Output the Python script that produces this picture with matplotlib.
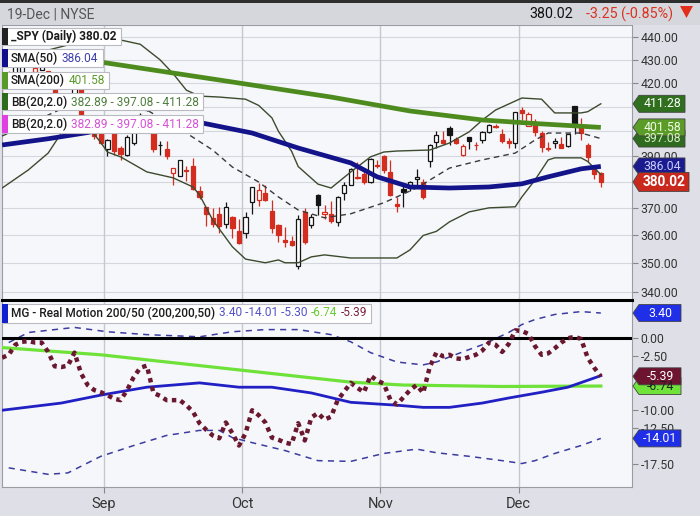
import matplotlib
matplotlib.use("Agg")
import matplotlib.pyplot as plt
from matplotlib.patches import Rectangle, Polygon
from matplotlib.ticker import NullLocator
import pandas as pd

plt.rcParams['font.family'] = ['Roboto', 'DejaVu Sans']

W, H = 700, 516

# trading days shown (Labor Day and Thanksgiving closed)
days = pd.bdate_range('2022-08-10', '2022-12-19')
days = days[~days.isin(pd.to_datetime(['2022-09-05', '2022-11-24']))]

prev_close = 411.35
opens = [418.78, 422.99, 422.03, 424.77, 427.73, 424.77, 425.79, 424.98, 417.05, 412.90,
         412.11, 415.24, 419.39, 402.20, 405.89, 400.00, 392.89, 400.28, 393.13, 390.37,
         395.34, 402.74, 408.78, 401.83, 394.47, 392.96, 383.60, 382.26, 384.60, 386.10,
         376.58, 370.58, 366.41, 367.76, 364.38, 366.61, 361.80, 361.08, 372.40, 373.20,
         375.62, 368.97, 363.96, 358.24, 358.17, 349.21, 368.55, 364.01, 375.13, 367.82,
         368.03, 365.12, 375.89, 378.79, 381.62, 383.07, 379.87, 386.44, 390.14, 383.90,
         371.47, 377.40, 377.71, 381.11, 379.93, 388.05, 395.59, 396.66, 401.15, 396.78,
         390.46, 397.74, 394.64, 396.63, 399.55, 401.83, 399.09, 396.05, 395.49, 408.77,
         402.25, 403.95, 399.42, 392.94, 395.14, 394.94, 394.11, 410.22, 401.61, 394.30,
         385.18, 383.47]
highs = [420.11, 424.95, 427.21, 429.31, 431.73, 428.97, 428.61, 425.26, 417.10, 415.42,
         415.11, 419.56, 420.13, 405.84, 405.90, 400.53, 396.78, 401.56, 394.12, 398.59,
         400.86, 407.51, 411.73, 403.10, 396.17, 395.96, 385.62, 388.55, 386.40, 389.31,
         378.66, 370.62, 370.21, 370.40, 372.30, 367.11, 365.91, 368.55, 378.00, 379.46,
         378.72, 373.29, 364.21, 363.03, 359.82, 367.51, 370.26, 367.98, 375.45, 371.26,
         372.67, 374.80, 380.06, 385.25, 387.58, 385.00, 389.52, 388.40, 390.39, 388.63,
         374.20, 378.87, 380.57, 385.12, 381.14, 395.04, 400.13, 400.18, 402.31, 397.78,
         394.95, 397.81, 395.82, 400.07, 402.93, 402.91, 400.81, 397.30, 407.68, 410.00,
         407.86, 404.93, 399.99, 395.64, 397.36, 397.76, 398.99, 410.49, 405.50, 395.25,
         386.58, 383.82]
lows = [415.69, 419.21, 421.03, 424.71, 426.88, 422.44, 425.50, 420.82, 412.44, 411.77,
        411.39, 413.88, 405.25, 401.20, 396.77, 394.82, 390.04, 390.33, 388.42, 390.20,
        394.46, 402.46, 408.46, 391.73, 390.58, 388.78, 378.80, 382.18, 380.46, 376.85,
        373.54, 363.29, 363.03, 360.87, 362.60, 359.21, 357.04, 359.21, 368.00, 370.95,
        372.68, 360.94, 357.67, 355.71, 356.30, 348.11, 356.96, 362.60, 367.52, 365.94,
        364.61, 363.54, 373.11, 378.67, 381.35, 379.33, 379.68, 385.26, 383.29, 374.76,
        368.79, 370.34, 376.50, 377.72, 373.61, 385.64, 393.48, 394.83, 394.49, 394.79,
        390.14, 393.04, 392.66, 395.15, 399.31, 401.54, 395.11, 393.30, 393.48, 404.75,
        402.14, 398.17, 391.64, 391.97, 393.13, 393.20, 393.56, 399.07, 396.31, 387.89,
        381.04, 378.28]
closes = [419.99, 419.90, 427.10, 428.86, 429.70, 426.65, 427.89, 422.14, 413.35, 412.35,
          413.67, 419.51, 405.31, 402.63, 398.21, 395.18, 396.42, 392.24, 390.76, 397.78,
          400.38, 406.60, 410.97, 393.10, 394.60, 390.12, 385.56, 388.55, 384.09, 377.39,
          374.22, 367.95, 364.31, 363.38, 370.53, 362.79, 357.18, 366.61, 377.97, 377.09,
          373.20, 362.79, 360.02, 357.74, 356.56, 365.97, 357.63, 366.82, 371.13, 368.50,
          365.41, 374.29, 378.87, 384.92, 382.02, 379.98, 389.02, 386.21, 384.52, 374.87,
          371.01, 376.35, 379.95, 382.00, 374.13, 394.69, 398.51, 395.12, 398.49, 395.45,
          394.24, 396.03, 394.59, 399.90, 402.42, 402.33, 395.91, 395.23, 407.68, 407.38,
          406.91, 399.59, 393.83, 393.16, 396.24, 393.28, 398.95, 401.97, 399.40, 389.63,
          383.27, 380.02]

# overlays (day index, value)
sma50_idx = [0, 7, 13, 19, 25, 30, 38, 45, 53, 57, 62, 68, 74, 79, 83, 88, 91]
sma50_val = [394.5, 397.0, 399.5, 403.0, 404.4, 403.6, 399.3, 393.3, 387.4, 382.0,
             378.1, 377.7, 378.1, 379.3, 382.0, 385.1, 386.04]
sma200_idx = [0, 15, 33, 50, 62, 73, 82, 91]
sma200_val = [433.6, 429.0, 421.3, 414.1, 408.3, 404.6, 403.0, 401.58]
bb_up_idx = [0, 6, 12, 18, 21, 24, 26, 28, 30, 33, 37, 39, 41, 42, 44, 45, 48, 50, 53,
             56, 58, 60, 65, 68, 71, 73, 75, 79, 82, 84, 88, 89, 91]
bb_up_val = [430.0, 433.5, 438.0, 438.7, 436.8, 430.0, 424.0, 417.0, 414.5, 414.1, 413.2,
             410.6, 405.5, 400.0, 392.0, 386.0, 379.2, 377.7, 383.9, 389.8, 391.7, 392.1,
             392.5, 395.3, 399.8, 404.6, 408.7, 413.7, 413.2, 407.5, 407.5, 408.0, 411.28]
bb_mid_idx = [0, 6, 12, 16, 22, 28, 32, 35, 39, 42, 45, 49, 53, 58, 63, 68, 73, 78, 81,
              83, 88, 91]
bb_mid_val = [398.1, 405.4, 412.9, 412.9, 408.7, 399.3, 392.5, 385.8, 380.0, 374.3, 369.4,
              366.5, 368.0, 372.1, 377.7, 385.4, 388.6, 391.3, 396.5, 399.3, 399.3, 397.08]
bb_lo_idx = [0, 4, 7, 9, 11, 13, 15, 16, 18, 22, 26, 29, 30, 32, 35, 37, 40, 42, 43, 45,
             47, 49, 53, 60, 62, 64, 66, 68, 71, 74, 78, 79, 81, 83, 84, 88, 89, 91]
bb_lo_val = [377.7, 384.7, 391.3, 399.3, 403.5, 402.0, 395.5, 391.7, 389.8, 383.9, 381.6,
             378.1, 375.1, 365.7, 355.9, 351.5, 350.2, 351.2, 350.2, 350.2, 352.3, 353.0,
             351.9, 351.9, 354.8, 360.0, 361.5, 365.0, 368.7, 370.2, 370.6, 374.3, 380.8,
             388.6, 389.4, 389.4, 388.0, 382.89]

# MG Real Motion panel
rm = [-2.8, -2.4, -1.0, -0.6, -0.5, -0.7, -0.7, -2.0, -4.0, -4.1,
      -3.9, -2.1, -5.0, -6.6, -7.3, -7.6, -8.0, -8.5, -8.7, -7.3,
      -5.5, -4.2, -3.9, -7.7, -8.1, -8.7, -8.7, -8.7, -9.4, -10.3,
      -11.9, -12.8, -13.6, -14.0, -11.8, -13.3, -15.0, -13.3, -10.1, -10.8,
      -11.8, -13.9, -14.2, -14.6, -14.8, -11.9, -14.3, -11.1, -10.5, -11.4,
      -11.0, -8.7, -7.5, -6.3, -7.0, -7.6, -5.3, -6.0, -6.4, -8.6,
      -9.3, -8.3, -7.3, -6.6, -7.7, -4.1, -2.1, -2.6, -2.4, -2.9,
      -3.0, -2.7, -2.4, -1.8, -0.7, -1.0, -2.0, -0.9, 1.0, 0.9,
      0.5, -1.2, -2.4, -2.2, -1.5, -0.7, -0.1, 0.1, -0.2, -2.8,
      -4.2, -5.39]
rm_slow_idx = [0, 15, 36, 53, 61, 76, 91]
rm_slow_val = [-1.4, -2.4, -4.5, -6.2, -6.6, -6.8, -6.74]
rm_fast_idx = [0, 9, 15, 22, 30, 36, 41, 47, 53, 60, 64, 68, 73, 77, 82, 86, 91]
rm_fast_val = [-10.1, -9.1, -8.0, -6.9, -6.3, -6.9, -6.9, -7.7, -9.0, -9.4, -9.7, -9.7,
               -9.1, -8.4, -7.6, -6.9, -5.30]
rm_up_idx = [1, 4, 11, 16, 22, 30, 35, 40, 45, 50, 53, 56, 60, 64, 66, 70, 73, 77, 79,
             81, 84, 88, 91]
rm_up_val = [-0.7, 0.7, 1.4, 0.8, 0.4, 0.1, 0.8, 1.1, 1.1, 0.4, -0.6, -2.1, -3.4, -3.8,
             -3.4, -2.0, -1.0, 0.7, 1.8, 2.5, 3.2, 3.6, 3.40]
rm_lo_idx = [1, 7, 10, 15, 20, 25, 30, 33, 35, 38, 43, 48, 53, 58, 63, 66, 71, 76, 79,
             81, 84, 88, 91]
rm_lo_val = [-18.1, -19.0, -18.8, -16.5, -15.0, -13.6, -12.9, -12.9, -13.9, -14.6, -15.7,
             -17.1, -17.2, -16.1, -15.5, -16.0, -16.5, -17.1, -17.5, -17.1, -16.1, -15.0,
             -14.01]

# gridline levels; labels under the value flags are not shown
price_grid = [440, 430, 420, 410, 400, 390, 380, 370, 360, 350, 340]
price_ticks = [440, 430, 420, 390, 370, 360, 350, 340]
rm_ticks = [0, -2.5, -10, -12.5, -17.5]

RED = '#d22d1f'
BLK = '#151515'
BG = '#f6f7fa'

def fx(x):
    return x / W

def fy(y):
    return 1 - y / H

fig = plt.figure(figsize=(7, 5.16), dpi=100, facecolor='#dfe0e7')
ax = fig.add_axes([fx(2), fy(299), 630 / W, 274 / H], facecolor=BG)
ax2 = fig.add_axes([fx(2), fy(487), 630 / W, 187 / H], facecolor=BG, sharex=ax)

n = len(closes)
month_pos = [i - 0.5 for i in range(1, n) if days[i].month != days[i - 1].month]
month_lab = [days[i].strftime('%b') for i in range(1, n) if days[i].month != days[i - 1].month]

# --- price panel
ax.set_yscale('log')
ax.set_ylim(337.6, 445.4)
ax.set_xlim(-0.02, 95.74)
for t in price_grid:
    ax.axhline(t, color='#d5d7de', lw=0.8, zorder=0.5)
for m in month_pos:
    ax.axvline(m, color='#c6c8cf', lw=1, zorder=0.5)
    ax2.axvline(m, color='#c6c8cf', lw=1, zorder=0.5)

bw = 0.64
for i in range(n):
    o, h, l, c = opens[i], highs[i], lows[i], closes[i]
    pc = closes[i - 1] if i > 0 else prev_close
    col = RED if c < pc else BLK
    hollow = c >= o
    ax.plot([i, i], [l, h], color=col, lw=0.9, zorder=2, solid_capstyle='butt')
    ax.add_patch(Rectangle((i - bw / 2, min(o, c)), bw, max(abs(c - o), 0.05),
                           facecolor='white' if hollow else col, edgecolor=col,
                           lw=0.9, zorder=2.1))

ax.plot(bb_up_idx, bb_up_val, color='#3c4a2e', lw=1.0, zorder=3)
ax.plot(bb_lo_idx, bb_lo_val, color='#3c4a2e', lw=1.0, zorder=3)
ax.plot(bb_mid_idx, bb_mid_val, color='#3a3a3a', lw=1.0, ls=(0, (4, 3)), zorder=3)
ax.plot(sma200_idx, sma200_val, color='#4e8b1e', lw=3.4, zorder=4, solid_capstyle='butt')
ax.plot(sma50_idx, sma50_val, color='#14148a', lw=3.4, zorder=4, solid_capstyle='butt')

ax.set_yticks(price_ticks)
ax.set_yticklabels([f'{t:.2f}' for t in price_ticks])
ax.yaxis.set_minor_locator(NullLocator())
ax.yaxis.tick_right()
ax.tick_params(axis='y', length=4, pad=2, labelsize=8.8, labelcolor='#333333', color='#888888')
ax.tick_params(axis='x', bottom=False, labelbottom=False)
for s in ['left', 'right', 'top']:
    ax.spines[s].set_color('#9a9ca4')
ax.spines['bottom'].set_visible(False)

# --- Real Motion panel
ax2.set_ylim(-20.76, 5.21)
ax2.axhline(0, color='black', lw=2.2, zorder=3)
ax2.plot(rm_up_idx, rm_up_val, color='#3b3ba0', lw=1.1, ls=(0, (4, 3.5)), zorder=2)
ax2.plot(rm_lo_idx, rm_lo_val, color='#3b3ba0', lw=1.1, ls=(0, (4, 3.5)), zorder=2)
ax2.plot(rm_slow_idx, rm_slow_val, color='#6fe23a', lw=2.3, zorder=3)
ax2.plot(rm_fast_idx, rm_fast_val, color='#2020c4', lw=2.0, zorder=3)
ax2.plot(range(n), rm, color='#6a1830', lw=3.2, ls=(0, (1, 1)), zorder=4)
ax2.set_yticks(rm_ticks)
ax2.set_yticklabels([f'{t:.2f}' for t in rm_ticks])
ax2.yaxis.tick_right()
ax2.tick_params(axis='y', length=4, pad=2, labelsize=8.8, labelcolor='#333333', color='#888888')
ax2.set_xticks(month_pos)
ax2.set_xticklabels(month_lab)
ax2.tick_params(axis='x', length=4, pad=3, labelsize=10.5, labelcolor='#333333', color='#888888')
for s in ['left', 'right', 'bottom']:
    ax2.spines[s].set_color('#9a9ca4')
ax2.spines['top'].set_color('black')
ax2.spines['top'].set_linewidth(2.2)

# --- header
fig.add_artist(Rectangle((0, fy(25)), 1, 25 / H, transform=fig.transFigure,
                         facecolor='#d6d7dd', edgecolor='none', zorder=1))
fig.add_artist(Rectangle((0, fy(3)), 1, 3 / H, transform=fig.transFigure,
                         facecolor='#2e2e2e', edgecolor='none', zorder=1.1))
fig.text(fx(7), fy(15), '19-Dec | NYSE', fontsize=10, color='#555555', va='center', zorder=2)
fig.text(fx(573), fy(14), '380.02', fontsize=10.3, color='#111111', va='center', ha='right', zorder=2)
fig.text(fx(673), fy(14), '-3.25 (-0.85%)', fontsize=10.3, color='#d8321f', va='center', ha='right', zorder=2)
fig.add_artist(Polygon([(fx(680), fy(6)), (fx(693), fy(6)), (fx(686.5), fy(18))], closed=True,
                       transform=fig.transFigure, facecolor='#e3301c', edgecolor='none', zorder=2))

renderer = fig.canvas.get_renderer()

def legend_box(yc, parts, strip, size=8.6, h=17):
    cur = 11
    for s, c, wt in parts:
        t = fig.text(fx(cur), fy(yc), s, color=c, fontsize=size, fontweight=wt,
                     va='center', ha='left', zorder=11)
        cur += t.get_window_extent(renderer).width + 3.5
    right = cur + 1
    fig.add_artist(Rectangle((fx(2), fy(yc + h / 2)), (right - 2) / W, h / H, transform=fig.transFigure,
                             facecolor='white', edgecolor='#b9bac2', lw=0.8, zorder=10))
    fig.add_artist(Rectangle((fx(2), fy(yc + h / 2)), 6 / W, h / H, transform=fig.transFigure,
                             facecolor=strip, edgecolor='none', zorder=10.5))

NAME = '#1c1c1c'
legend_box(36, [('_SPY (Daily) 380.02', NAME, 'bold')], '#222222')
legend_box(58, [('SMA(50)', NAME, 'medium'), ('386.04', '#3f3fae', 'normal')], '#10108a')
legend_box(80, [('SMA(200)', NAME, 'medium'), ('401.58', '#5a9a2a', 'normal')], '#5a9a2a')
legend_box(102, [('BB(20,2.0)', NAME, 'medium'), ('382.89 - 397.08 - 411.28', '#4d7d3d', 'normal')], '#2e6b1e')
legend_box(124, [('BB(20,2.0)', NAME, 'medium'), ('382.89 - 397.08 - 411.28', '#d650d6', 'normal')], '#e040e0')
legend_box(313, [('MG - Real Motion 200/50 (200,200,50)', NAME, 'medium'),
                 ('3.40 -14.01 -5.30', '#5252c8', 'normal'), ('-6.74', '#66cc33', 'normal'),
                 ('-5.39', '#7a2040', 'normal')], '#1020d0', h=19)

def tag(axis, val, face, tcol, width=52, h=17, size=8.8, weight='normal'):
    yc = H - axis.transData.transform((0, val))[1]
    x0 = 633
    pts = [(x0, yc), (x0 + 6, yc - h / 2), (x0 + width, yc - h / 2),
           (x0 + width, yc + h / 2), (x0 + 6, yc + h / 2)]
    fig.add_artist(Polygon([(fx(a), fy(b)) for a, b in pts], closed=True, transform=fig.transFigure,
                           facecolor=face, edgecolor='#444444', lw=0.6, zorder=12))
    fig.text(fx(x0 + 6 + (width - 6) / 2), fy(yc), f'{val:.2f}', color=tcol, fontsize=size,
             fontweight=weight, ha='center', va='center', zorder=13)

tag(ax, 397.08, '#2f6b1f', '#d8efc6')
tag(ax, 411.28, '#2f6f1e', '#ffffff')
tag(ax, 401.58, '#5b9b28', '#f2ffe6')
tag(ax, 386.04, '#1b1b8f', '#c8ccff')
tag(ax, 380.02, '#c9281d', '#ffffff', width=56, h=19, size=9.8, weight='bold')
tag(ax2, 3.40, '#1f2fe8', '#ffffff', width=48)
tag(ax2, -6.74, '#6fe33a', '#222222', width=48)
tag(ax2, -5.39, '#6d1431', '#ffffff', width=48)
tag(ax2, -14.01, '#1f2fe8', '#ffffff', width=48)

fig.savefig('out.png', dpi=100, facecolor=fig.get_facecolor())
